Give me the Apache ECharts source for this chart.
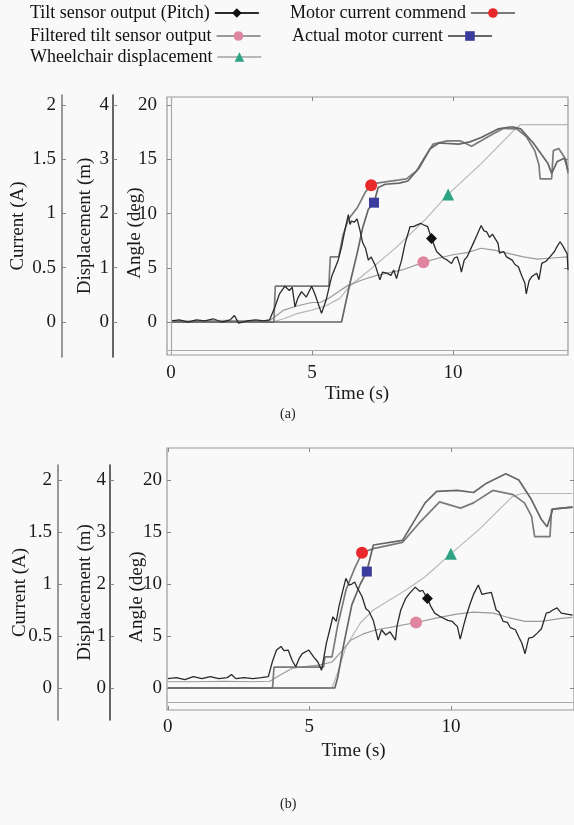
<!DOCTYPE html>
<html>
<head>
<meta charset="utf-8">
<script src="https://cdn.jsdelivr.net/npm/echarts@6/dist/echarts.min.js"></script>
<style>
  html, body { margin: 0; padding: 0; background: #f9f9f9; }
  #main { width: 574px; height: 825px; }
</style>
</head>
<body>
<div id="main"></div>
<script>
// series names (legend order)
var names = ['Tilt sensor output (Pitch)', 'Filtered tilt sensor output', 'Wheelchair displacement',
             'Motor current commend', 'Actual motor current'];

// tick labels
var timeTicks = [0, 5, 10];
var angleTicks = [0, 5, 10, 15, 20];
var currentTicks = [0, 0.5, 1, 1.5, 2];
var dispTicks = [0, 1, 2, 3, 4];

// ---- panel (a) ----  [time s, value]
var pitchA = [[0,0.1],[0.3,0.2],[0.6,0.0],[0.9,0.2],[1.2,0.1],[1.5,0.3],[1.8,0.0],[2.1,0.2],[2.25,0.6],[2.4,-0.1],[2.7,0.1],[3.0,0.2],[3.3,0.1],[3.5,0.2],
  [3.69,1.4],[3.85,2.6],[4.04,3.3],[4.2,2.9],[4.3,3.2],[4.4,1.4],[4.5,2.2],[4.63,2.8],[4.8,2.3],[4.99,3.3],[5.1,2.6],[5.34,0.8],[5.5,2.0],[5.7,4.2],
  [5.93,5.7],[6.05,6.9],[6.17,8.5],[6.29,9.9],[6.35,9.0],[6.4,9.3],[6.5,9.2],[6.6,9.5],[6.7,8.5],[6.8,7.3],[6.9,6.8],[7.0,5.7],[7.1,6.0],[7.25,5.2],
  [7.41,3.9],[7.5,4.6],[7.65,4.5],[7.8,4.3],[7.9,4.8],[8.0,4.0],[8.1,5.0],[8.18,5.7],[8.3,7.2],[8.48,8.8],[8.6,8.8],[8.85,9.1],[9.0,8.9],[9.1,8.8],
  [9.24,7.7],[9.42,6.5],[9.66,5.9],[9.8,5.7],[9.95,5.4],[10.05,5.9],[10.15,6.0],[10.25,5.2],[10.3,4.6],[10.4,5.7],[10.5,6.0],[10.72,7.25],[10.85,8.0],
  [11.0,8.9],[11.1,8.4],[11.2,8.3],[11.3,7.8],[11.4,8.1],[11.6,7.25],[11.65,6.35],[11.8,6.5],[11.9,6.0],[12.1,5.7],[12.2,5.3],[12.32,5.1],[12.45,4.2],
  [12.55,3.6],[12.6,2.6],[12.7,3.8],[12.8,4.2],[12.97,4.5],[13.05,3.9],[13.15,5.4],[13.3,5.6],[13.44,6.0],[13.6,6.5],[13.68,6.9],[13.8,7.4],[13.9,7.0],
  [13.98,6.6],[14.05,6.3],[14.08,4.8]];
var filteredA = [[0,0.1],[1,0.1],[2,0.15],[3,0.1],[3.5,0.15],[3.7,0.5],[4.0,1.1],[4.5,1.5],[5.0,1.8],[5.3,1.8],[5.6,2.2],[6.0,2.9],[6.3,3.4],[6.8,3.9],
  [7.3,4.3],[8.2,4.8],[8.95,5.5],[9.5,5.9],[10.0,6.2],[10.5,6.4],[11.0,6.8],[11.5,6.6],[12.0,6.3],[12.5,6.0],[13.0,5.8],[13.5,5.9],[14.08,6.0]];
var dispA = [[0,0],[3.6,0],[4.0,0.06],[4.5,0.16],[5.0,0.22],[5.5,0.3],[6.0,0.44],[6.3,0.64],[7.0,0.94],[8.0,1.38],[9.0,1.88],[9.8,2.34],[11.0,2.92],
  [12.1,3.5],[12.4,3.64],[14.08,3.64]];
var commandA = [[0,0],[3.65,0],[3.7,0.33],[5.6,0.33],[5.65,0.6],[5.95,0.6],[6.1,0.8],[6.3,0.95],[6.6,1.05],[6.9,1.2],[7.1,1.26],[7.3,1.28],[8.1,1.31],
  [8.35,1.32],[8.7,1.39],[9.0,1.52],[9.3,1.64],[9.8,1.67],[10.25,1.67],[10.66,1.62],[11.0,1.67],[11.4,1.73],[11.8,1.785],[12.26,1.78],[12.6,1.71],
  [12.9,1.58],[13.05,1.45],[13.09,1.32],[13.5,1.32],[13.56,1.58],[13.75,1.6],[14.0,1.5],[14.08,1.37]];
var actualA = [[0,0],[6.05,0],[6.35,0.36],[6.6,0.63],[6.8,0.87],[7.0,1.04],[7.2,1.1],[7.35,1.24],[7.6,1.27],[8.1,1.28],[8.4,1.3],[8.8,1.42],[9.2,1.6],
  [9.5,1.65],[10.2,1.64],[10.6,1.66],[11.0,1.7],[11.6,1.78],[12.1,1.8],[12.4,1.78],[12.85,1.65],[13.37,1.46],[13.5,1.37],[13.7,1.48],[13.95,1.51],[14.08,1.4]];
// one marker per curve: [time, value]
var markersA = [[9.24,7.7],[8.95,5.5],[9.83,2.35],[7.1,1.26],[7.2,1.1]];
// inner axis lines of panel (a): time 0 and angle -2.6
var axisLinesA = [{ xAxis: 0 }, { yAxis: -2.6 }];

// ---- panel (b) ----
var pitchB = [[0,0.9],[0.3,1.0],[0.6,0.8],[0.9,1.1],[1.2,0.9],[1.5,1.1],[1.8,0.9],[2.1,1.0],[2.25,1.3],[2.4,0.9],[2.7,1.0],[3.0,0.9],[3.3,1.0],[3.55,1.1],
  [3.7,2.6],[3.84,3.65],[4.0,4.0],[4.1,3.6],[4.25,3.65],[4.4,2.6],[4.52,2.05],[4.65,2.9],[4.75,3.3],[4.98,3.65],[5.15,3.0],[5.3,2.5],[5.43,1.7],[5.6,4.3],
  [5.72,5.6],[5.83,6.85],[5.95,6.4],[6.05,7.9],[6.15,9.0],[6.29,10.55],[6.4,9.9],[6.5,10.0],[6.6,10.2],[6.7,9.6],[6.86,8.8],[7.0,7.6],[7.1,7.4],[7.26,6.5],
  [7.43,4.6],[7.55,5.6],[7.7,5.1],[7.85,5.4],[8.04,4.6],[8.1,6.0],[8.23,7.5],[8.4,8.6],[8.51,9.0],[8.74,9.7],[8.9,9.3],[9.0,9.4],[9.17,8.6],[9.3,7.8],
  [9.43,7.2],[9.6,6.9],[9.89,6.5],[10.05,6.4],[10.23,5.9],[10.33,4.7],[10.45,6.0],[10.55,7.0],[10.68,8.1],[10.8,9.0],[10.97,9.9],[11.1,9.0],[11.25,9.1],
  [11.43,9.2],[11.6,7.5],[11.7,7.3],[11.85,6.4],[12.0,6.3],[12.1,5.8],[12.28,5.6],[12.4,4.9],[12.51,4.3],[12.62,3.3],[12.75,4.8],[12.9,4.9],[13.06,5.3],
  [13.2,5.7],[13.37,7.2],[13.5,7.3],[13.6,7.5],[13.75,7.7],[13.9,7.2],[14.3,7.0]];
var filteredB = [[0,0.6],[1,0.6],[2,0.65],[3,0.6],[3.6,0.65],[4.0,1.3],[4.4,1.9],[5.0,2.1],[5.35,2.2],[5.8,2.5],[6.1,3.4],[6.46,4.6],[6.9,5.2],[7.37,5.6],
  [8.0,5.9],[8.77,6.3],[9.6,6.8],[10.2,7.1],[10.8,7.3],[11.5,7.2],[12.0,6.8],[12.62,6.4],[13.2,6.4],[13.9,6.7],[14.3,6.8]];
var dispB = [[0,0],[5.8,0],[6.0,0.3],[6.3,0.8],[6.8,1.25],[7.26,1.5],[8.4,1.88],[9.09,2.14],[10.0,2.58],[11.0,3.05],[12.17,3.68],[12.5,3.74],[14.3,3.74]];
var commandB = [[0,0],[3.7,0],[3.75,0.2],[5.5,0.2],[5.55,0.3],[5.8,0.3],[6.0,0.6],[6.3,0.95],[6.6,1.15],[6.86,1.3],[7.26,1.34],[8.29,1.4],[8.86,1.58],
  [9.6,1.79],[10.34,1.73],[10.8,1.78],[11.48,1.9],[12.2,1.86],[12.6,1.78],[12.85,1.65],[12.96,1.455],[13.5,1.455],[13.56,1.72],[14.3,1.74]];
var actualB = [[0,0],[5.9,0],[6.0,0.1],[6.2,0.4],[6.5,0.8],[6.8,1.0],[7.03,1.12],[7.26,1.375],[8.29,1.42],[9.09,1.78],[9.5,1.89],[10.23,1.9],[10.8,1.88],
  [11.26,1.97],[11.94,2.06],[12.4,2.0],[12.85,1.81],[13.2,1.62],[13.4,1.55],[13.6,1.72],[14.3,1.74]];
var markersB = [[9.17,8.6],[8.77,6.3],[10.0,2.58],[6.86,1.3],[7.03,1.12]];
var axisLinesB = [{ yAxis: -1.4 }];

var FONT = 'Liberation Serif';
var lineColors = ['#2a2a2a', '#9a9a9a', '#b8b8b8', '#7a7a7a', '#666666'];
var lineWidths = [1.3, 1.2, 1.2, 1.7, 1.7];
var markColors = ['#111111', '#e0859f', '#2fa386', '#e8282a', '#3b3b9e'];
var symbols = ['diamond', 'circle', 'triangle', 'circle', 'rect'];
var markSizes = [11, 12, 12, 12, 10];

var myChart = echarts.init(document.getElementById('main'));

function tickAxis(extra) {
  var ax = {
    type: 'value', splitLine: { show: false },
    axisLine: { show: false, onZero: false },
    axisTick: { show: true, inside: true, length: 4, lineStyle: { color: '#888' } },
    axisLabel: { show: false },
    nameMoveOverlap: false
  };
  for (var k in extra) ax[k] = extra[k];
  return ax;
}

function labelled(ticks, margin) {
  return {
    axisTick: { show: true, inside: true, length: 4, customValues: ticks, lineStyle: { color: '#888' } },
    axisLabel: { show: true, customValues: ticks, margin: margin, fontFamily: FONT, fontSize: 19, color: '#1a1a1a' }
  };
}

// grid 0: panel a plot, grid 1: panel b plot, grid 2/3: current + displacement scales
var xAxes = [
  tickAxis({ gridIndex: 0, position: 'bottom', min: -0.14, max: 14.08,
    axisTick: labelled(timeTicks, 9).axisTick, axisLabel: labelled(timeTicks, 9).axisLabel,
    name: 'Time (s)', nameLocation: 'middle', nameGap: 30,
    nameTextStyle: { fontFamily: FONT, fontSize: 19, color: '#1a1a1a', padding: [0, 21, 0, 0] } }),
  tickAxis({ gridIndex: 0, position: 'top', min: -0.14, max: 14.08,
    axisTick: labelled(timeTicks, 0).axisTick }),
  tickAxis({ gridIndex: 1, position: 'bottom', min: -0.03, max: 14.35,
    axisTick: labelled(timeTicks, 8).axisTick, axisLabel: labelled(timeTicks, 8).axisLabel,
    name: 'Time (s)', nameLocation: 'middle', nameGap: 32,
    nameTextStyle: { fontFamily: FONT, fontSize: 19, color: '#1a1a1a', padding: [0, 34, 0, 0] } }),
  tickAxis({ gridIndex: 1, position: 'top', min: -0.03, max: 14.35,
    axisTick: labelled(timeTicks, 0).axisTick }),
  { type: 'value', gridIndex: 2, show: false, min: 0, max: 1 },
  { type: 'value', gridIndex: 3, show: false, min: 0, max: 1 }
];

function scaleAxis(grid, min, max, ticks, margin, name, gap, lineColor, offset) {
  var l = labelled(ticks, margin);
  return {
    type: 'value', gridIndex: grid, position: 'left', offset: offset, min: min, max: max,
    splitLine: { show: false },
    axisLine: { show: true, onZero: false, lineStyle: { color: lineColor, width: 1.5 } },
    axisTick: l.axisTick, axisLabel: l.axisLabel,
    name: name, nameLocation: 'middle', nameGap: gap, nameMoveOverlap: false,
    nameTextStyle: { fontFamily: FONT, fontSize: 19, color: '#1a1a1a' }
  };
}

var yAxes = [
  // 0..3 panel a
  tickAxis({ gridIndex: 0, position: 'left', min: -3.04, max: 20.74,
    axisTick: labelled(angleTicks, 10).axisTick, axisLabel: labelled(angleTicks, 10).axisLabel,
    name: 'Angle (deg)', nameLocation: 'middle', nameGap: 22,
    nameTextStyle: { fontFamily: FONT, fontSize: 19, color: '#1a1a1a', padding: [0, 14, 0, 0] } }),
  tickAxis({ gridIndex: 0, position: 'right', min: -3.04, max: 20.74,
    axisTick: labelled(angleTicks, 0).axisTick }),
  { type: 'value', gridIndex: 0, show: false, min: -0.304, max: 2.074 },
  { type: 'value', gridIndex: 0, show: false, min: -0.608, max: 4.148 },
  // 4..7 panel b
  tickAxis({ gridIndex: 1, position: 'left', min: -2.115, max: 23.08,
    axisTick: labelled(angleTicks, 5).axisTick, axisLabel: labelled(angleTicks, 5).axisLabel,
    name: 'Angle (deg)', nameLocation: 'middle', nameGap: 20,
    nameTextStyle: { fontFamily: FONT, fontSize: 19, color: '#1a1a1a', padding: [0, 36, 0, 0] } }),
  tickAxis({ gridIndex: 1, position: 'right', min: -2.115, max: 23.08,
    axisTick: labelled(angleTicks, 0).axisTick }),
  { type: 'value', gridIndex: 1, show: false, min: -0.2115, max: 2.308 },
  { type: 'value', gridIndex: 1, show: false, min: -0.423, max: 4.615 },
  // 8..11 visible current / displacement scales
  scaleAxis(2, -0.645, 4.184, dispTicks, 4, 'Displacement (m)', 18, '#333', 0),
  scaleAxis(2, -0.323, 2.092, currentTicks, 6, 'Current (A)', 34, '#777', 51),
  scaleAxis(3, -0.615, 4.288, dispTicks, 4, 'Displacement (m)', 15, '#333', 0),
  scaleAxis(3, -0.3077, 2.144, currentTicks, 6, 'Current (A)', 28, '#777', 52)
];

function makeSeries(idx, data, xi, yi, mark, refLines) {
  var s = {
    name: names[idx], type: 'line', xAxisIndex: xi, yAxisIndex: yi,
    data: data, showSymbol: false, symbol: symbols[idx], symbolSize: markSizes[idx] - 2,
    lineStyle: { color: lineColors[idx], width: lineWidths[idx] },
    itemStyle: { color: markColors[idx] },
    z: idx === 0 ? 4 : 3,
    markPoint: {
      silent: true, label: { show: false },
      symbol: symbols[idx], symbolSize: markSizes[idx],
      itemStyle: { color: markColors[idx] },
      data: [{ coord: mark }]
    }
  };
  if (refLines) {
    s.markLine = {
      silent: true, symbol: 'none', label: { show: false },
      lineStyle: { color: '#aaa', width: 1.2, type: 'solid' },
      data: refLines
    };
  }
  return s;
}

var series = [
  makeSeries(2, dispA, 0, 3, markersA[2]),
  makeSeries(1, filteredA, 0, 0, markersA[1]),
  makeSeries(3, commandA, 0, 2, markersA[3]),
  makeSeries(4, actualA, 0, 2, markersA[4]),
  makeSeries(0, pitchA, 0, 0, markersA[0], axisLinesA),
  makeSeries(2, dispB, 2, 7, markersB[2]),
  makeSeries(1, filteredB, 2, 4, markersB[1]),
  makeSeries(3, commandB, 2, 6, markersB[3]),
  makeSeries(4, actualB, 2, 6, markersB[4]),
  makeSeries(0, pitchB, 2, 4, markersB[0], axisLinesB)
];

function legendItem(name, left, top) {
  return {
    data: [name], left: left, top: top, padding: 0, align: 'right',
    itemWidth: 44, itemHeight: 12, selectedMode: false,
    textStyle: { fontFamily: FONT, fontSize: 18, color: '#111', width: 184 }
  };
}

var option = {
  animation: false,
  backgroundColor: '#f9f9f9',
  legend: [
    legendItem(names[0], 30, 4),
    legendItem(names[1], 30, 27),
    legendItem(names[2], 30, 48),
    legendItem(names[3], 290, 4),
    legendItem(names[4], 292, 27)
  ],
  grid: [
    { left: 167, top: 97, width: 401, height: 258, show: true, borderColor: '#999', borderWidth: 1.2 },
    { left: 167, top: 448, width: 420, height: 262, show: true, borderColor: '#999', borderWidth: 1.2 },
    { left: 113, top: 95, width: 20, height: 262 },
    { left: 110, top: 465, width: 20, height: 255 }
  ],
  xAxis: xAxes,
  yAxis: yAxes,
  series: series,
  graphic: [
    { type: 'text', left: 280, top: 407, style: { text: '(a)', font: '14px "Liberation Serif"', fill: '#222' } },
    { type: 'text', left: 280, top: 797, style: { text: '(b)', font: '14px "Liberation Serif"', fill: '#222' } }
  ]
};
myChart.setOption(option);
</script>
</body>
</html>
